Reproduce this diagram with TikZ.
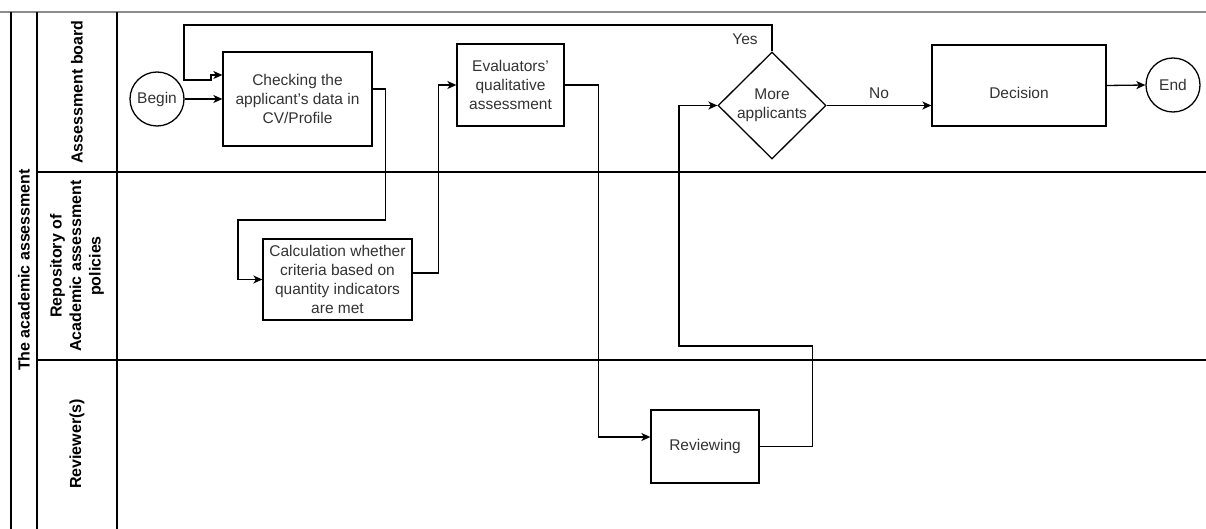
\documentclass[tikz,border=0pt]{standalone}
\usepackage{fontspec}
\setmainfont{Liberation Sans}
\usetikzlibrary{shapes.geometric,arrows.meta}

\begin{document}
\begin{tikzpicture}[>={Stealth[length=9pt,width=8pt,inset=2.5pt]},x=1pt,y=-1pt,
	]

	\tikzset{proc/.style={
				draw,line width=1.3pt,text=black!80,align=center,
				font=\fontsize{15.5}{18.8}\selectfont,inner sep=0pt}
	}
	\tikzset{event/.style={
				proc,circle,minimum size=54pt}
	}
	\tikzset{flow/.style={
				line width=1.3pt,->}
	}
	\tikzset{lanetitle/.style={
				rotate=90,align=center,
				font=\fontsize{16}{19.5}\selectfont\bfseries}
	}

	\useasboundingbox (0,0) rectangle (1206,529);

	% pool and lanes
	\draw[black!45,line width=1.3pt] (0,12) -- (1206,12);
	\draw[line width=1.3pt] (11,12) -- (11,529);
	\draw[line width=1.3pt] (37,12) -- (37,529);
	\draw[line width=1.3pt] (117,12) -- (117,529);
	\draw[line width=1.3pt] (37,172) -- (1206,172);
	\draw[line width=1.3pt] (37,360) -- (1206,360);

	\node[lanetitle] (pool) at (24,270) {The academic assessment};
	\node[lanetitle] (board) at (77,92) {Assessment board};
	\node[lanetitle] (repo) at (77,266) {Repository of\\Academic assessment\\policies};
	\node[lanetitle] (revs) at (77,444) {Reviewer(s)};

	% steps
	\node[event] (begin) at (157,99) {Begin};
	\node[proc,minimum width=149pt,minimum height=94pt] (check) at (297.5,99) {Checking the\\applicant's data in\\CV/Profile};
	\node[proc,minimum width=149pt,minimum height=81pt] (calc) at (337.5,279.5) {Calculation whether\\criteria based on\\quantity indicators\\are met};
	\node[proc,minimum width=107pt,minimum height=82pt] (eval) at (510.5,85) {Evaluators'\\qualitative\\assessment};
	\node[proc,minimum width=108pt,minimum height=73pt] (rev) at (705,446.5) {Reviewing};
	\node[proc,diamond,minimum width=108pt,minimum height=107pt] (more) at (772,105.5) {More\\applicants};
	\node[proc,minimum width=174pt,minimum height=81pt] (dec) at (1019,85.5) {\raisebox{-13pt}[0pt][0pt]{Decision}};
	\node[event] (end) at (1173,85) {End};

	\coordinate (yesin) at ([yshift=24pt]check.west);

	% connectors
	\draw[flow] (begin) -- (check);
	\draw[flow] ([yshift=10pt]check.east) -- ++(13,0) |- (238,220) |- (calc.west);
	\draw[flow] ([yshift=6.5pt]calc.east) -- ++(26,0) |- (eval.west);
	\draw[flow] (eval.east) -- ++(34,0) |- ([yshift=9.5pt]rev.west);
	\draw[flow] (rev.east) -- ++(53,0) |- (679,346) |- (more.west);
	\draw[flow] (more.east) -- node[above=3pt,text=black!80,font=\fontsize{15.5}{18.8}\selectfont]{No} (more.east -| dec.west);
	\draw[flow] (dec.east) -- (end.west);
	\draw[flow] (more.north) |- (184,25) |- (211,80) |- (yesin);
	\node[text=black!80,font=\fontsize{15.5}{18.8}\selectfont] (yes) at (745,39) {Yes};

\end{tikzpicture}
\end{document}
